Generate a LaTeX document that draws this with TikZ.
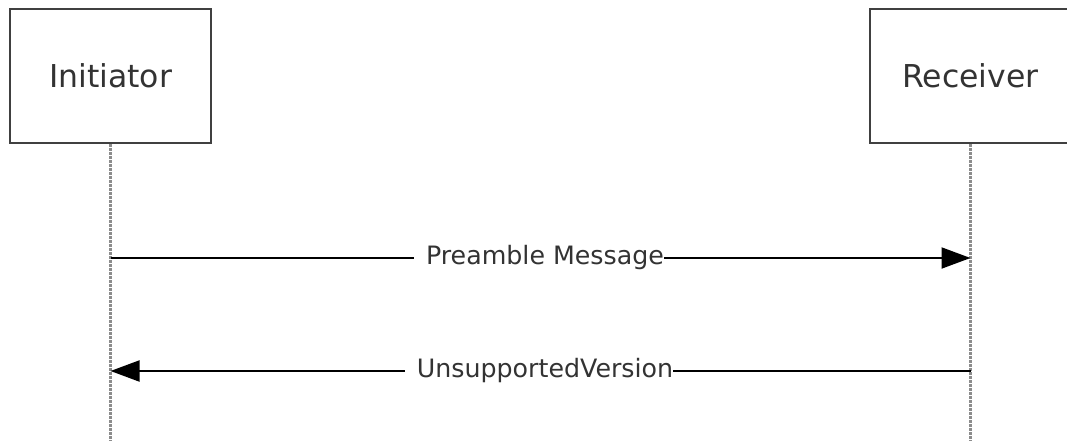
\documentclass[tikz,border=0pt]{standalone}
\usepackage{fontspec}
\setmainfont{DejaVu Sans}
\usetikzlibrary{arrows.meta}
\begin{document}
\begin{tikzpicture}[x=1pt,y=-1pt,
  actor/.style={draw=black!75,line width=2.2pt,minimum width=201pt,minimum height=134pt,inner sep=0pt,font=\fontsize{31.5}{36}\selectfont,text=black!80},
  lifeline/.style={draw=black!45,line width=3pt,dash pattern=on 2.5pt off 1.5pt},
  msg/.style={draw=black,line width=2pt,-{Triangle[length=29pt,width=21pt]}},
  lbl/.style={fill=white,inner xsep=0pt,inner ysep=2pt,font=\fontsize{25.3}{29}\selectfont,text=black!80}]
\useasboundingbox (0,0) rectangle (1067,441);
\begin{scope}
\clip (0,0) rectangle (1067,441);
\node[actor] (ini) at (110.5,76) {Initiator};
\node[actor] (rec) at (970.5,76) {Receiver};
\coordinate (iniend) at (110.5,441);
\coordinate (recend) at (970.5,441);
\draw[lifeline] (ini.south) -- (iniend);
\draw[lifeline] (rec.south) -- (recend);
\coordinate (a1) at (110.5,258);
\coordinate (b1) at (970.5,258);
\coordinate (a2) at (970.5,371);
\coordinate (b2) at (110.5,371);
\draw[msg] (a1) -- node[lbl,xshift=-1.5pt] (l1) {\hspace{12pt}Preamble Message} (b1);
\draw[msg] (a2) -- node[lbl,xshift=-1.5pt] (l2) {\hspace{12pt}UnsupportedVersion} (b2);
\end{scope}
\end{tikzpicture}
\end{document}
